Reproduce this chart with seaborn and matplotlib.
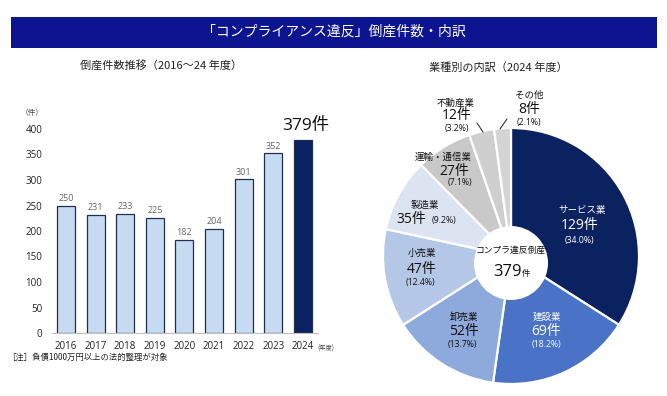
import matplotlib
matplotlib.use("Agg")
import matplotlib.pyplot as plt
from matplotlib.patches import Rectangle, Circle
import pandas as pd
import seaborn as sns

# data
years = ["2016", "2017", "2018", "2019", "2020", "2021", "2022", "2023", "2024"]
counts = [250, 231, 233, 225, 182, 204, 301, 352, 379]

industries = ["サービス業", "建設業", "卸売業", "小売業", "製造業", "運輸・通信業", "不動産業", "その他"]
ind_counts = [129, 69, 52, 47, 35, 27, 12, 8]
ind_pcts = ["34.0", "18.2", "13.7", "12.4", "9.2", "7.1", "3.2", "2.1"]

sns.set_style("white")
plt.rcParams["font.family"] = ["Open Sans", "Noto Sans CJK JP", "DejaVu Sans"]
CJK = ["Noto Sans CJK JP", "DejaVu Sans"]

W, H = 667, 396
fig = plt.figure(figsize=(W / 100, H / 100), dpi=100)


def fx(px):
    return px / W


def fy(py):
    return 1 - py / H


# title bar
fig.patches.append(Rectangle((fx(11), fy(48)), fx(646), 31 / H, transform=fig.transFigure,
                             facecolor="#0d1490", edgecolor="none", zorder=0))
fig.text(fx(334), fy(32), "「コンプライアンス違反」倒産件数・内訳", color="white",
         fontsize=10, ha="center", va="center", family=CJK)

fig.text(fx(161), fy(65), "倒産件数推移（2016～24 年度）", fontsize=8, ha="center",
         va="center", color="#222222", family=CJK)
fig.text(fx(498), fy(68), "業種別の内訳（2024 年度）", fontsize=8, ha="center",
         va="center", color="#222222", family=CJK)

# ---- bar chart ----
ax = fig.add_axes([fx(52), fy(333), 266 / W, 204 / H])
df = pd.DataFrame({"year": years, "count": counts})
bar_colors = ["#c6daf1"] * (len(years) - 1) + ["#0b2260"]
sns.barplot(data=df, x="year", y="count", hue="year", palette=bar_colors,
            legend=False, width=0.61, ax=ax, saturation=1)
for p in ax.patches:
    p.set_edgecolor("#1f2f4f")
    p.set_linewidth(0.9)

for i, v in enumerate(counts[:-1]):
    ax.annotate(str(v), (i, v), xytext=(0, 2), textcoords="offset points",
                ha="center", va="bottom", fontsize=6.5, color="#666666")
ax.annotate(f"{counts[-1]}件", (len(counts) - 1, counts[-1]), xytext=(2, 4),
            textcoords="offset points", ha="center", va="bottom", fontsize=12.5,
            color="#111111", annotation_clip=False)

ax.set_xlim(-0.47, 8.51)
ax.set_ylim(0, 400)
ax.set_yticks(range(0, 401, 50))
ax.set_xlabel("")
ax.set_ylabel("")
ax.tick_params(axis="both", length=0, labelsize=7, colors="#222222")
ax.tick_params(axis="x", pad=6)
ax.tick_params(axis="y", pad=7)
for s in ["left", "right", "top"]:
    ax.spines[s].set_visible(False)
ax.spines["bottom"].set_color("#bfbfbf")
ax.patch.set_alpha(0)

fig.text(fx(32), fy(113), "（件）", fontsize=5.5, ha="center", va="center", color="#444444",
         family=CJK)
fig.text(fx(326), fy(349), "(年度)", fontsize=4.5, ha="center", va="center", color="#444444",
         family=CJK)
fig.text(fx(7), fy(357), "［注］負債1000万円以上の法的整理が対象", fontsize=6,
         ha="left", va="center", color="#222222", family=CJK)

# ---- donut ----
cx, cy, R = 511, 256, 128
pax = fig.add_axes([fx(cx - R), fy(cy + R), 2 * R / W, 2 * R / H])
pie_colors = ["#0b2260", "#4a72c6", "#8eaadc", "#b4c7e7", "#dce4f2",
              "#c9c9c9", "#cfcfcf", "#d4d4d4"]
pax.pie(ind_counts, colors=pie_colors, startangle=90, counterclock=False, radius=1,
        wedgeprops=dict(edgecolor="white", linewidth=1.6))
pax.set_xlim(-1, 1)
pax.set_ylim(-1, 1)
pax.set_aspect("equal")


def dx(px):
    return (px - cx) / R


def dy(py):
    return (cy - py) / R


pax.add_patch(Circle((dx(511), dy(263)), 37 / R, facecolor="white", edgecolor="none", zorder=5))
pax.text(dx(511), dy(250), "コンプラ違反倒産", fontsize=6.3, ha="center", va="center",
         color="#111111", zorder=6, family=CJK)
pax.text(dx(522), dy(276), str(sum(ind_counts)), fontsize=12, ha="right", va="baseline",
         color="#111111", zorder=6)
pax.text(dx(522), dy(276), "件", fontsize=6, ha="left", va="baseline",
         color="#111111", zorder=6)

# label layout (pixel centres): name, count, pct
label_pos = [
    ((582, 210), (580, 226), (579, 240)),
    ((547, 317), (546, 332), (546, 344)),
    ((464, 317), (464, 332), (462, 344)),
    ((422, 253), (422, 269), (420, 283)),
    ((425, 205), (411, 220), (444, 220)),
    ((443, 157), (454, 172), (460, 183)),
    ((456, 103), (457, 115), (457, 128)),
    ((529, 95), (529, 110), (529, 123)),
]
white_labels = {0, 1}
for i, (name, n, pct) in enumerate(zip(industries, ind_counts, ind_pcts)):
    col = "white" if i in white_labels else "#111111"
    (nx, ny), (kx, ky), (qx, qy) = label_pos[i]
    pax.text(dx(nx), dy(ny), name, fontsize=6.8, ha="center", va="center", color=col,
             zorder=6, clip_on=False, family=CJK)
    pax.text(dx(kx), dy(ky), f"{n}件", fontsize=10, ha="center", va="center", color=col,
             zorder=6, clip_on=False)
    pax.text(dx(qx), dy(qy), f"({pct}%)", fontsize=6.3, ha="center", va="center",
             color=col, zorder=6, clip_on=False)

# leader lines
pax.plot([dx(477), dx(483)], [dy(123), dy(132)], color="#333333", lw=0.8, clip_on=False)
pax.plot([dx(500), dx(507)], [dy(129), dy(119)], color="#333333", lw=0.8, clip_on=False)

fig.savefig("out.png", dpi=100)
